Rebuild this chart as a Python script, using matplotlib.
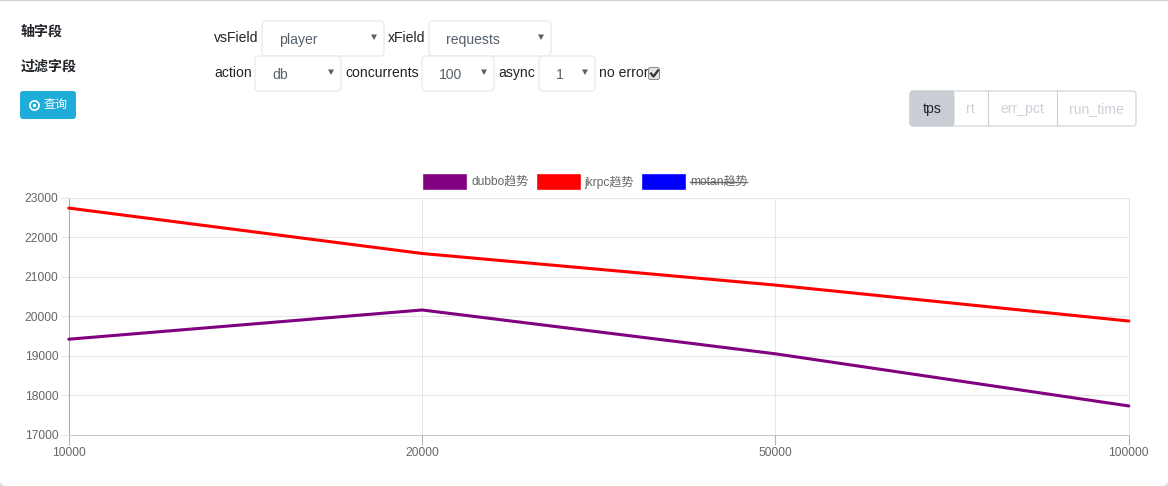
import matplotlib
matplotlib.use("Agg")
import matplotlib.pyplot as plt
from matplotlib.patches import FancyBboxPatch, Rectangle, Polygon

plt.rcParams['font.family'] = ['Liberation Sans', 'Noto Sans CJK SC', 'DejaVu Sans']

categories = ['10000', '20000', '50000', '100000']
y_ticks = [17000, 18000, 19000, 20000, 21000, 22000, 23000]
dubbo = [19420, 20160, 19050, 17730]
jkrpc = [22740, 21590, 20790, 19880]
series_names = ['dubbo趋势', 'jkrpc趋势', 'motan趋势']
series_colors = ['#800080', '#ff0000', '#0000ff']
button_labels = ['tps', 'rt', 'err_pct', 'run_time']

W, H = 1168, 486
fig = plt.figure(figsize=(W / 100, H / 100), dpi=100, facecolor='white')

# overlay in pixel coordinates for the page widgets
ui = fig.add_axes([0, 0, 1, 1], zorder=3)
ui.set_xlim(0, W)
ui.set_ylim(H, 0)
ui.axis('off')
ui.patch.set_alpha(0)

# chart
L, R, T, B = 68.8, 1128.8, 197.8, 434.8
ax = fig.add_axes([L / W, 1 - B / H, (R - L) / W, (B - T) / H], zorder=1)
xs = list(range(len(categories)))
ax.plot(xs, dubbo, color=series_colors[0], lw=2.2, solid_capstyle='round', zorder=3, clip_on=False)
ax.plot(xs, jkrpc, color=series_colors[1], lw=2.2, solid_capstyle='round', zorder=3, clip_on=False)
ax.set_xlim(0, len(categories) - 1)
ax.set_ylim(y_ticks[0], y_ticks[-1])
ax.set_xticks(xs, categories)
ax.set_yticks(y_ticks)
ax.grid(True, color='#e6e6e6', lw=0.75)
ax.set_axisbelow(True)
for s in ['top', 'right']:
    ax.spines[s].set_color('#e6e6e6')
    ax.spines[s].set_linewidth(0.75)
ax.spines['left'].set_color('#aaaaaa')
ax.spines['bottom'].set_color('#c8c8c8')
ax.spines['left'].set_linewidth(0.75)
ax.spines['bottom'].set_linewidth(0.75)
ax.tick_params(axis='x', length=7, width=0.75, color='#b4b4b4', labelcolor='#666666', labelsize=8.64, pad=1.5)
ax.tick_params(axis='y', length=5.5, width=0.75, color='#e6e6e6', labelcolor='#666666', labelsize=8.64, pad=1.9)

# top edge and corners of the card
ui.plot([0, W], [0.5, 0.5], color='#ccd2d9', lw=1.5)
for cx, sx in [(0, 1), (W, -1)]:
    ui.add_patch(Polygon([[cx, H], [cx + 4 * sx, H], [cx, H - 4]], closed=True, fc='#dfe3e8', ec='none'))

TXT = '#212529'
def label(x, y, s, **kw):
    kw.setdefault('fontsize', 10.08)
    kw.setdefault('color', TXT)
    ui.text(x, y, s, ha=kw.pop('ha', 'left'), va='center', **kw)

def select(x0, x1, y0, y1, s, tx, arrow):
    ui.add_patch(FancyBboxPatch((x0 + 3, y0 + 3), x1 - x0 - 6, y1 - y0 - 6,
                                boxstyle='round,pad=3,rounding_size=4',
                                fc='white', ec='#e3e6ea', lw=0.75))
    label(tx, (y0 + y1) / 2 + 1.5, s, color='#56606a')
    ax_y = (y0 + y1) / 2 - 1.5
    ui.add_patch(Polygon([[arrow - 3, ax_y - 2.5], [arrow + 3, ax_y - 2.5], [arrow, ax_y + 3]],
                         closed=True, fc='#56606a', ec='none'))

label(20.5, 31.5, '轴字段', fontweight='bold', fontsize=10.08)
label(20.5, 66.5, '过滤字段', fontweight='bold', fontsize=10.08)

ui.add_patch(FancyBboxPatch((23, 94), 50, 22, boxstyle='round,pad=3,rounding_size=3',
                            fc='#20acd8', ec='none'))
ui.plot([34.2], [105], marker='o', ms=6.6, mfc='none', mec='white', mew=1.2, ls='none')
ui.plot([34.2], [105], marker='o', ms=2.4, mfc='white', mec='none', ls='none')
label(43.5, 105, '查询', color='white', fontsize=8.64)

label(214, 38.3, 'vsField')
select(262, 384, 21, 56, 'player', 279, 374)
label(388, 38.3, 'xField')
select(429, 551, 21, 56, 'requests', 446, 541)
label(214, 73.3, 'action')
select(255, 341, 56, 91, 'db', 272, 331)
label(345, 73.3, 'concurrents')
select(422, 494, 56, 91, '100', 439, 484)
label(498, 73.3, 'async')
select(539, 595, 56, 91, '1', 556, 585)
label(599, 73.3, 'no error')

# checkbox
ui.add_patch(FancyBboxPatch((650, 69), 8, 9, boxstyle='round,pad=1.5,rounding_size=2',
                            fc='#e4e4e4', ec='#8f8f8f', lw=0.75))
ui.plot([651, 653.5, 658], [73.5, 76.5, 70.5], color='#333333', lw=1.6)

# button group
edges = [910, 953.5, 987.5, 1056.5, 1136]
ui.add_patch(FancyBboxPatch((913, 94), 220, 29, boxstyle='round,pad=3,rounding_size=3',
                            fc='white', ec='#c8ced4', lw=0.75))
ui.add_patch(FancyBboxPatch((913, 94), 38, 29, boxstyle='round,pad=3,rounding_size=3',
                            fc='#c8ced4', ec='#c8ced4', lw=0.75))
ui.add_patch(Rectangle((946, 91.5), 7.5, 34, fc='#c8ced4', ec='none'))
for e in edges[2:4]:
    ui.plot([e, e], [91.5, 125.5], color='#c8ced4', lw=0.75)
for i, s in enumerate(button_labels):
    ui.text((edges[i] + edges[i + 1]) / 2, 108.8, s, ha='center', va='center', fontsize=10.08,
            color=TXT if i == 0 else '#ccd1d8')

# legend
leg_x = [423, 537, 642]
txt_x = [471, 584.5, 690]
for i, name in enumerate(series_names):
    ui.add_patch(Rectangle((leg_x[i] + .3, 174.3), 43, 15.2, fc=series_colors[i],
                           ec=matplotlib.colors.to_rgba(series_colors[i], 0.6), lw=0.75))
    ui.text(txt_x[i], 182, name, ha='left', va='center', fontsize=8.64, color='#666666')
ui.plot([690, 747], [182, 182], color='#666666', lw=1)

fig.savefig('out.png', dpi=100, facecolor='white')
